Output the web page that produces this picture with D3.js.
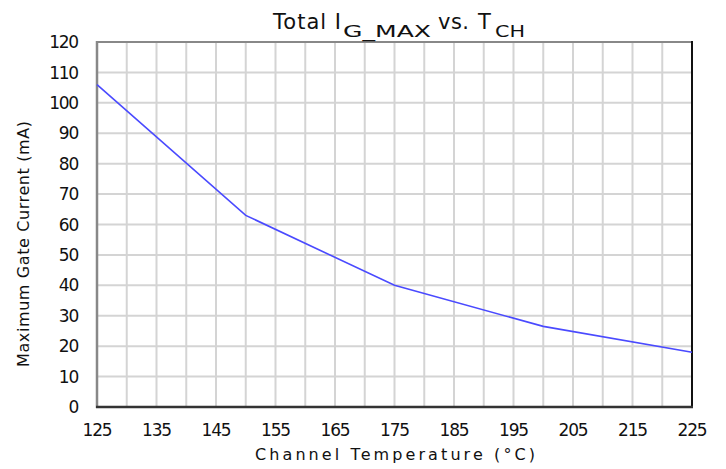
<!DOCTYPE html>
<html>
<head>
<meta charset="utf-8">
<script src="https://cdn.jsdelivr.net/npm/d3@7"></script>
<style>
  body { margin: 0; background: #fff; }
  svg text { font-family: "DejaVu Sans", sans-serif; fill: #111; }
</style>
</head>
<body>
<div id="chart"></div>
<script>
// data
var temps = [125, 150, 175, 200, 225];
var currents = [106, 63, 40, 26.5, 18];
var xTicks = [125, 135, 145, 155, 165, 175, 185, 195, 205, 215, 225];
var yTicks = [0, 10, 20, 30, 40, 50, 60, 70, 80, 90, 100, 110, 120];

var w = 726, h = 469;
var m = {left: 97, right: 34, top: 42, bottom: 62};

var svg = d3.select("#chart")
  .append("svg")
  .attr("width", w)
  .attr("height", h);

var x = d3.scaleLinear()
  .domain([125, 225])
  .range([m.left, w - m.right]);

var y = d3.scaleLinear()
  .domain([0, 120])
  .range([h - m.bottom, m.top]);

// grid every 5 degC and 10 mA
svg.append("g")
  .selectAll("line")
  .data(d3.range(130, 225, 5))
  .enter().append("line")
  .attr("x1", d => x(d)).attr("x2", d => x(d))
  .attr("y1", y(0)).attr("y2", y(120))
  .attr("stroke", "#d4d4d4")
  .attr("stroke-width", 2);

svg.append("g")
  .selectAll("line")
  .data(yTicks.slice(1, -1))
  .enter().append("line")
  .attr("x1", x(125)).attr("x2", x(225))
  .attr("y1", d => y(d)).attr("y2", d => y(d))
  .attr("stroke", "#d4d4d4")
  .attr("stroke-width", 2);

// frame
svg.append("line")
  .attr("x1", x(125)).attr("x2", x(225))
  .attr("y1", y(120)).attr("y2", y(120))
  .attr("stroke", "#888").attr("stroke-width", 2);
svg.append("line")
  .attr("x1", x(225)).attr("x2", x(225))
  .attr("y1", y(120) - 1).attr("y2", y(0))
  .attr("stroke", "#111").attr("stroke-width", 2);
svg.append("line")
  .attr("x1", x(125)).attr("x2", x(125))
  .attr("y1", y(120) - 1).attr("y2", y(0) + 1)
  .attr("stroke", "#888").attr("stroke-width", 2.5);
svg.append("line")
  .attr("x1", x(125) - 1).attr("x2", x(225) + 1)
  .attr("y1", y(0)).attr("y2", y(0))
  .attr("stroke", "#333").attr("stroke-width", 2.5);

// tick labels
svg.append("g")
  .selectAll("text")
  .data(yTicks)
  .enter().append("text")
  .attr("x", 78)
  .attr("y", d => y(d))
  .attr("dy", "0.36em")
  .style("text-anchor", "end")
  .style("font-size", "17px")
  .style("letter-spacing", "-1.2px")
  .text(d => d);

svg.append("g")
  .selectAll("text")
  .data(xTicks)
  .enter().append("text")
  .attr("x", d => x(d))
  .attr("y", 436)
  .style("text-anchor", "middle")
  .style("font-size", "17px")
  .style("letter-spacing", "-1.2px")
  .text(d => d);

// the curve
var line = d3.line()
  .x((d, i) => x(temps[i]))
  .y(d => y(d));

svg.append("path")
  .datum(currents)
  .attr("d", line)
  .attr("fill", "none")
  .attr("stroke", "#4a4aff")
  .attr("stroke-width", 1.6);

// title, pieces placed one by one (wide old-style lettering)
var title = svg.append("text").style("font-size", "21px");
title.append("tspan").attr("x", 273).attr("y", 29)
  .attr("textLength", 68).attr("lengthAdjust", "spacing").text("Total I");
title.append("tspan").attr("x", 343).attr("y", 37).style("font-size", "16px")
  .attr("textLength", 88).attr("lengthAdjust", "spacingAndGlyphs").text("G_MAX");
title.append("tspan").attr("x", 438).attr("y", 29)
  .attr("textLength", 31).attr("lengthAdjust", "spacing").text("vs.");
title.append("tspan").attr("x", 478).attr("y", 29).text("T");
title.append("tspan").attr("x", 495).attr("y", 37).style("font-size", "16px")
  .attr("textLength", 30).attr("lengthAdjust", "spacingAndGlyphs").text("CH");

svg.append("text")
  .attr("x", 395)
  .attr("y", 460)
  .attr("textLength", 280)
  .attr("lengthAdjust", "spacing")
  .style("text-anchor", "middle")
  .style("font-size", "16px")
  .text("Channel Temperature (°C)");

svg.append("text")
  .attr("transform", "translate(29,244) rotate(-90)")
  .attr("textLength", 246)
  .attr("lengthAdjust", "spacing")
  .style("text-anchor", "middle")
  .style("font-size", "16px")
  .text("Maximum Gate Current (mA)");
</script>
</body>
</html>
